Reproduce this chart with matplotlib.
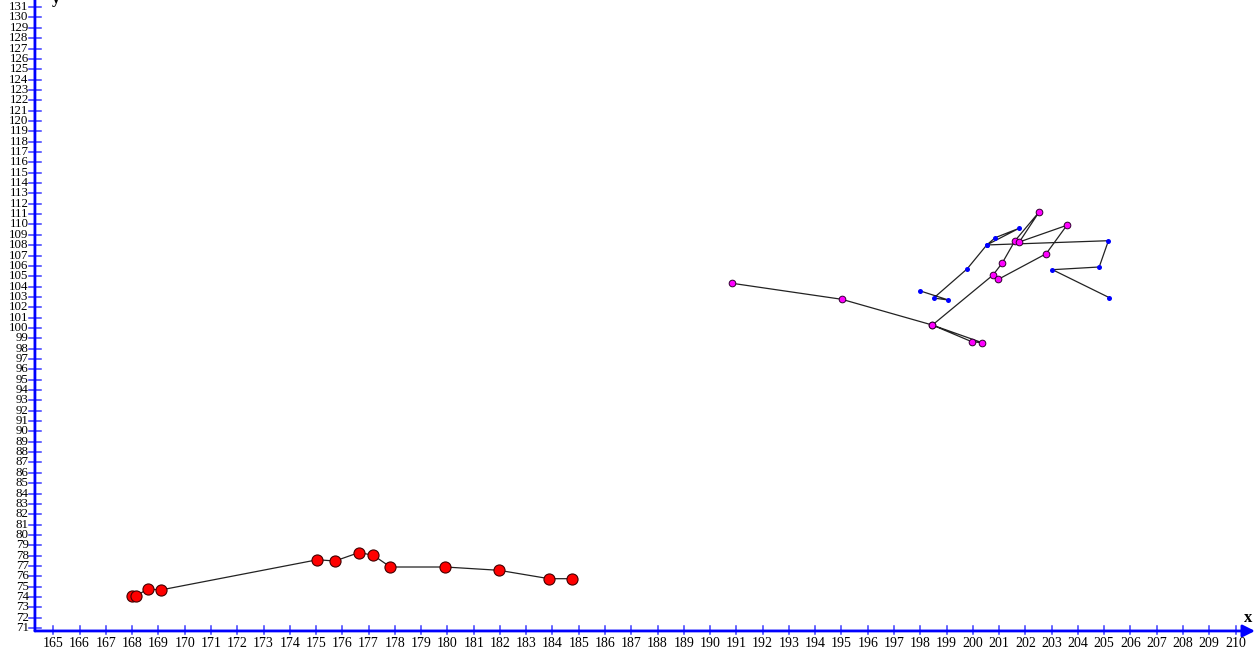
import matplotlib.pyplot as plt

# red track (big markers)
red_x = [167.98, 168.15, 168.59, 169.09, 175.05, 175.72, 176.64, 177.18, 177.83, 179.92, 181.97, 183.87, 184.76]
red_y = [74.10, 74.10, 74.78, 74.68, 77.60, 77.48, 78.30, 78.03, 76.90, 76.90, 76.58, 75.77, 75.77]

# magenta track
mag_x = [190.85, 195.01, 198.46, 200.36, 199.96, 198.46, 200.77, 201.12, 201.60, 202.53, 201.77, 203.58, 202.79, 200.97]
mag_y = [104.31, 102.77, 100.28, 98.57, 98.67, 100.28, 105.12, 106.28, 108.41, 111.23, 108.31, 109.92, 107.17, 104.70]

# blue track (small markers)
blue_x = [197.97, 199.07, 198.51, 199.78, 200.53, 200.85, 201.76, 200.53, 205.16, 204.81, 203.03, 205.20]
blue_y = [103.60, 102.70, 102.89, 105.70, 108.02, 108.72, 109.63, 108.02, 108.43, 105.89, 105.63, 102.92]

x_ticks = list(range(165, 211))
y_ticks = list(range(71, 132))

x0, y0 = 164.3, 70.72  # where the axes cross

fig = plt.figure(figsize=(12.55, 6.53), dpi=100)
ax = fig.add_axes([0, 0, 1, 1])
ax.set_xlim(162.97, 210.74)
ax.set_ylim(68.59, 131.69)
ax.axis('off')

axis_col = '#0000ff'
tick_col = '#3a3aff'

# axes with arrows (the y arrow head sits above the picture)
ax.annotate('', xy=(210.74, y0), xytext=(x0, y0),
            arrowprops=dict(arrowstyle='-|>', color=axis_col, lw=2, mutation_scale=18, shrinkA=0, shrinkB=0))
ax.annotate('', xy=(x0, 134.0), xytext=(x0, y0), annotation_clip=False,
            arrowprops=dict(arrowstyle='-|>', color=axis_col, lw=2, mutation_scale=18, shrinkA=0, shrinkB=0))

for t in x_ticks:
    ax.plot([t, t], [y0 - 0.3, y0 + 0.5], color=tick_col, lw=1.1)
    ax.text(t, 69.5, str(t), ha='center', va='center', fontsize=10,
            family='Liberation Serif')
for t in y_ticks:
    ax.plot([x0 - 0.23, x0 + 0.23], [t, t], color=tick_col, lw=1.1)
    ax.text(x0 - 0.24, t, str(t), ha='right', va='center', fontsize=9.3,
            family='Liberation Serif')

ax.text(210.48, 71.98, 'x', ha='center', va='center', fontsize=12,
        fontweight='bold', family='Liberation Serif')
ax.text(165.1, 131.75, 'y', ha='center', va='center', fontsize=12,
        fontweight='bold', family='Liberation Serif')

line_kw = dict(color='#222222', lw=0.9, zorder=2)
ax.plot(red_x, red_y, **line_kw)
ax.plot(mag_x, mag_y, **line_kw)
ax.plot(blue_x, blue_y, **line_kw)

ax.plot(red_x, red_y, 'o', ms=8, mfc='#ff0000', mec='#400000', mew=0.8, zorder=3)
ax.plot(mag_x, mag_y, 'o', ms=4.8, mfc='#ff00ff', mec='#300030', mew=0.7, zorder=3)
ax.plot(blue_x, blue_y, 'o', ms=3.6, mfc='#0000ff', mec='#0000ff', mew=0, zorder=3)

fig.savefig('out.png', dpi=100)
